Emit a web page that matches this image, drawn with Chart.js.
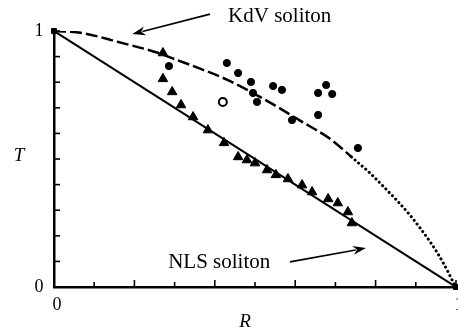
<!DOCTYPE html>
<html>
<head>
<meta charset="utf-8">
<script src="https://cdn.jsdelivr.net/npm/chart.js@4.4.1/dist/chart.umd.min.js"></script>
<style>
  html, body { margin: 0; padding: 0; background: #fff; }
  #chart { display: block; }
</style>
</head>
<body>
<canvas id="chart" width="458" height="333"></canvas>
<script>
// NLS soliton theory: straight line
const nlsR = [0, 1];
const nlsT = [1, 0];

// KdV soliton theory, dashed part
const kdvDashR = [0, 0.07, 0.16, 0.26, 0.30, 0.36, 0.43, 0.51, 0.54, 0.61, 0.69, 0.74];
const kdvDashT = [1, 0.992, 0.957, 0.914, 0.890, 0.855, 0.810, 0.745, 0.718, 0.652, 0.575, 0.508];
// KdV soliton theory, dotted part
const kdvDotR = [0.74, 0.786, 0.818, 0.853, 0.886, 0.91, 0.935, 0.953, 0.968, 0.98, 0.99, 1];
const kdvDotT = [0.508, 0.445, 0.395, 0.338, 0.280, 0.232, 0.178, 0.135, 0.095, 0.060, 0.028, 0];

// experiment, filled circles
const circR = [0.286, 0.430, 0.458, 0.490, 0.495, 0.505, 0.545, 0.567, 0.592, 0.657, 0.677, 0.692, 0.657, 0.756];
const circT = [0.863, 0.875, 0.836, 0.801, 0.758, 0.723, 0.785, 0.770, 0.652, 0.758, 0.789, 0.754, 0.672, 0.543];

// experiment, open circle
const openR = [0.420];
const openT = [0.723];

// experiment, triangles
const triR = [0.271, 0.271, 0.294, 0.316, 0.346, 0.383, 0.423, 0.458, 0.480, 0.500, 0.530, 0.552, 0.582, 0.617, 0.642, 0.682, 0.706, 0.731, 0.741];
const triT = [0.914, 0.813, 0.762, 0.711, 0.664, 0.613, 0.563, 0.508, 0.496, 0.484, 0.457, 0.438, 0.422, 0.398, 0.371, 0.344, 0.328, 0.293, 0.250];

// end points of the curves
const endR = [0, 1];
const endT = [1, 0];

const minorTicks = [0.1, 0.2, 0.3, 0.4, 0.5, 0.6, 0.7, 0.8, 0.9, 1];
const tickValues = [0, 1];
const tickLabels = ['0', '1'];

const toXY = (rs, ts) => rs.map((r, i) => ({ x: r, y: ts[i] }));

const notes = [
  { text: 'KdV soliton', tx: 0.433, ty: 1.055, from: [0.388, 1.066], to: [0.195, 0.988] },
  { text: 'NLS soliton', tx: 0.284, ty: 0.094, from: [0.587, 0.098], to: [0.776, 0.152] },
];

const serif = '"Liberation Serif", "Times New Roman", serif';

const decor = {
  id: 'decor',
  afterDraw(chart) {
    const { ctx, scales: { x, y } } = chart;
    ctx.save();
    ctx.strokeStyle = '#000';
    ctx.fillStyle = '#000';
    ctx.lineWidth = 1.6;

    // inward ticks
    const x0 = x.getPixelForValue(0);
    const y0 = y.getPixelForValue(0);
    minorTicks.forEach((v, i) => {
      const px = x.getPixelForValue(v);
      const len = i % 2 === 1 ? 7 : 5;
      ctx.beginPath();
      ctx.moveTo(px, y0);
      ctx.lineTo(px, y0 - len);
      ctx.stroke();
      const py = y.getPixelForValue(v);
      ctx.beginPath();
      ctx.moveTo(x0, py);
      ctx.lineTo(x0 + 6, py);
      ctx.stroke();
    });

    // tick labels
    ctx.font = '18px ' + serif;
    ctx.textAlign = 'center';
    ctx.textBaseline = 'middle';
    tickValues.forEach((v, i) => {
      ctx.fillText(tickLabels[i], x0 - 15, y.getPixelForValue(v));
      ctx.fillText(tickLabels[i], x.getPixelForValue(v) + 3, y0 + 18);
    });

    // axis titles
    ctx.font = 'italic 19px ' + serif;
    ctx.fillText('T', x0 - 35, y.getPixelForValue(0.51));
    ctx.fillText('R', x.getPixelForValue(0.475), y0 + 35);

    // annotations with arrows
    ctx.font = '21px ' + serif;
    ctx.textAlign = 'left';
    notes.forEach(n => {
      ctx.fillText(n.text, x.getPixelForValue(n.tx), y.getPixelForValue(n.ty));
      const ax = x.getPixelForValue(n.from[0]), ay = y.getPixelForValue(n.from[1]);
      const bx = x.getPixelForValue(n.to[0]), by = y.getPixelForValue(n.to[1]);
      const ang = Math.atan2(by - ay, bx - ax);
      const hl = 13, hw = 4.5;
      ctx.lineWidth = 1.6;
      ctx.beginPath();
      ctx.moveTo(ax, ay);
      ctx.lineTo(bx - Math.cos(ang) * hl * 0.8, by - Math.sin(ang) * hl * 0.8);
      ctx.stroke();
      ctx.beginPath();
      ctx.moveTo(bx, by);
      ctx.lineTo(bx - Math.cos(ang) * hl - Math.sin(ang) * hw, by - Math.sin(ang) * hl + Math.cos(ang) * hw);
      ctx.lineTo(bx - Math.cos(ang) * hl * 0.7, by - Math.sin(ang) * hl * 0.7);
      ctx.lineTo(bx - Math.cos(ang) * hl + Math.sin(ang) * hw, by - Math.sin(ang) * hl - Math.cos(ang) * hw);
      ctx.closePath();
      ctx.fill();
    });
    ctx.restore();
  }
};

const axisBase = (horizontal) => ({
  type: 'linear',
  min: 0,
  max: 1,
  grid: { display: false },
  ticks: { display: false },
  border: { display: true, color: '#000', width: 2.5 },
  afterFit(scale) {
    if (horizontal) scale.height = 0; else scale.width = 0;
  },
});

new Chart(document.getElementById('chart'), {
  type: 'scatter',
  data: {
    datasets: [
      { data: toXY(endR, endT), pointStyle: 'rect', pointRadius: 3.5, backgroundColor: '#000', borderColor: '#000', clip: false },
      { data: toXY(openR, openT), pointStyle: 'circle', pointRadius: 4, backgroundColor: '#fff', borderColor: '#000', borderWidth: 2 },
      { data: toXY(circR, circT), pointStyle: 'circle', pointRadius: 3.6, backgroundColor: '#000', borderColor: '#000' },
      { data: toXY(triR, triT), pointStyle: 'triangle', pointRadius: 5.5, backgroundColor: '#000', borderColor: '#000' },
      { data: toXY(nlsR, nlsT), showLine: true, pointRadius: 0, borderColor: '#000', borderWidth: 2 },
      { data: toXY(kdvDashR, kdvDashT), showLine: true, pointRadius: 0, borderColor: '#000', borderWidth: 2.5,
        borderDash: [12, 4], cubicInterpolationMode: 'monotone' },
      { data: toXY(kdvDotR, kdvDotT), showLine: true, pointRadius: 0, borderColor: '#000', borderWidth: 3,
        borderDash: [0.1, 4.6], borderCapStyle: 'round', cubicInterpolationMode: 'monotone' },
    ]
  },
  options: {
    responsive: false,
    animation: false,
    layout: { autoPadding: false, padding: { left: 54, right: 2, top: 31, bottom: 46 } },
    plugins: { legend: { display: false }, tooltip: { enabled: false } },
    scales: { x: axisBase(true), y: axisBase(false) },
  },
  plugins: [decor],
});
</script>
</body>
</html>
